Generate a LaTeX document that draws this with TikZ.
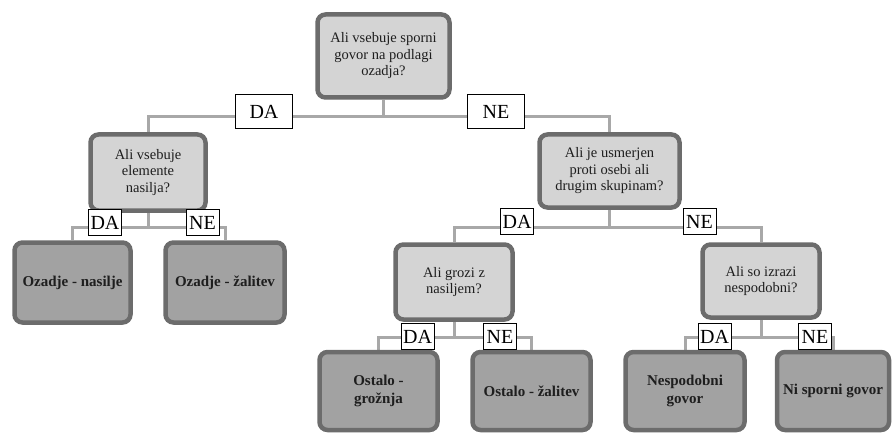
\documentclass[tikz,border=0pt]{standalone}
\usepackage{fontspec}
\setmainfont{Liberation Serif}
\usetikzlibrary{shadows,backgrounds}
\definecolor{qfill}{HTML}{D4D4D4}
\definecolor{lfill}{HTML}{A2A2A2}
\definecolor{bord}{HTML}{6C6C6C}
\definecolor{conn}{HTML}{A8A8A8}
\definecolor{txt}{HTML}{1E1E1E}
\tikzset{
  qbox/.style={draw=bord, line width=4.5pt, fill=qfill, rounded corners=8pt,
    align=center, text=txt, inner sep=2pt,
    font=\fontsize{14.5}{16.5}\selectfont,
    drop shadow={opacity=0.25, shadow xshift=1pt, shadow yshift=-2pt}},
  lbox/.style={draw=bord, line width=4.5pt, fill=lfill, rounded corners=8pt,
    align=center, text=txt, inner sep=2pt,
    font=\fontsize{15}{18}\selectfont\bfseries,
    drop shadow={opacity=0.25, shadow xshift=1pt, shadow yshift=-2pt}},
  tag/.style={draw=black, line width=1pt, fill=white, inner sep=0pt,
    font=\fontsize{20}{20}\selectfont, text=black},
  bigtag/.style={tag, minimum width=57pt, minimum height=34pt},
  smalltag/.style={tag, minimum width=33pt, minimum height=26pt},
  conn/.style={draw=conn, line width=3pt}
}
\begin{document}
\begin{tikzpicture}[x=1pt,y=-1pt]
\useasboundingbox (0,0) rectangle (892,433);
% question nodes
\node[qbox, minimum width=132pt, minimum height=83pt] (root) at (383.5,56) {Ali vsebuje sporni\\govor na podlagi\\ozadja?};
\node[qbox, minimum width=115pt, minimum height=76pt] (q1) at (148,172.5) {Ali vsebuje\\elemente\\nasilja?};
\node[qbox, minimum width=140pt, minimum height=73pt] (q2) at (609.5,171) {Ali je usmerjen\\proti osebi ali\\drugim skupinam?};
\node[qbox, minimum width=117pt, minimum height=75pt] (q3) at (454,282) {Ali grozi z\\nasiljem?};
\node[qbox, minimum width=117pt, minimum height=73pt] (q4) at (761,281) {Ali so izrazi\\nespodobni?};
% leaves
\node[lbox, minimum width=116pt, minimum height=80pt] (l1) at (72.5,282.5) {Ozadje - nasilje};
\node[lbox, minimum width=119pt, minimum height=80pt] (l2) at (225,282.5) {Ozadje - žalitev};
\node[lbox, minimum width=118pt, minimum height=78pt] (l3) at (378.5,391) {Ostalo -\\grožnja};
\node[lbox, minimum width=118pt, minimum height=78pt] (l4) at (531.5,391) {Ostalo - žalitev};
\node[lbox, minimum width=119pt, minimum height=78pt] (l5) at (685,391) {Nespodobni\\govor};
\node[lbox, minimum width=112pt, minimum height=78pt] (l6) at (833,391) {Ni sporni govor};
% junctions
\coordinate (j0) at (383.5,117);
\coordinate (j1) at (148,227);
\coordinate (j2) at (609.5,227);
\coordinate (j3) at (454,337);
\coordinate (j4) at (761,337);
\begin{scope}[on background layer]
\draw[conn] (root.south) -- (j0) -| (q1.north);
\draw[conn] (j0) -| (q2.north);
\draw[conn] (q1.south) -- (j1) -| (l1.north);
\draw[conn] (j1) -| (l2.north);
\draw[conn] (q2.south) -- (j2) -| (q3.north);
\draw[conn] (j2) -| (q4.north);
\draw[conn] (q3.south) -- (j3) -| (l3.north);
\draw[conn] (j3) -| (l4.north);
\draw[conn] (q4.south) -- (j4) -| (l5.north);
\draw[conn] (j4) -| (l6.north);
\end{scope}
% tags
\node[bigtag] (t0a) at (264,111.5) {DA};
\node[bigtag] (t0b) at (496,111.5) {NE};
\node[smalltag] (t1a) at (105,222.5) {DA};
\node[smalltag] (t1b) at (202.5,222.5) {NE};
\node[smalltag] (t2a) at (517,221.5) {DA};
\node[smalltag] (t2b) at (699.5,221.5) {NE};
\node[smalltag] (t3a) at (417.5,336.5) {DA};
\node[smalltag] (t3b) at (500,336.5) {NE};
\node[smalltag] (t4a) at (714.5,336.5) {DA};
\node[smalltag] (t4b) at (815,336.5) {NE};
\end{tikzpicture}
\end{document}
